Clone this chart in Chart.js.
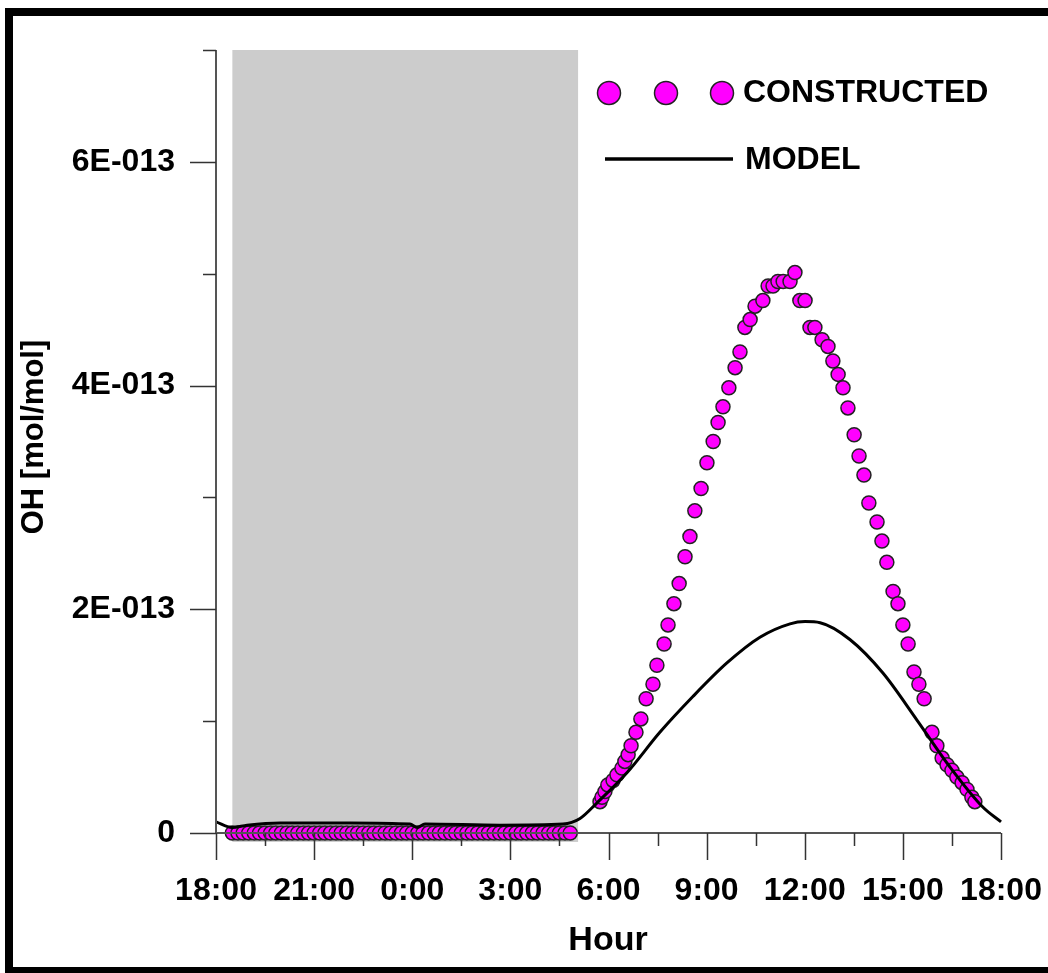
<!DOCTYPE html>
<html>
<head>
<meta charset="utf-8">
<script src="https://cdn.jsdelivr.net/npm/chart.js@4.4.1/dist/chart.umd.min.js"></script>
<style>
  html, body { margin: 0; padding: 0; background: #fff; overflow: hidden; }
  #wrap { position: relative; width: 1048px; height: 973px; overflow: hidden; }
  #frame { position: absolute; left: 5px; top: 8px; width: 1100px; height: 967px; box-sizing: border-box; border: 8px solid #000; border-right: none; pointer-events: none; }
</style>
</head>
<body>
<div id="wrap">
  <canvas id="c" width="1048" height="973"></canvas>
  <div id="frame"></div>
</div>
<script>
// x values: hours elapsed since 18:00 (0 = 18:00, 24 = 18:00 next day)
// y values: OH in units of 1E-013 mol/mol
const hourTickLabels = ["18:00", "21:00", "0:00", "3:00", "6:00", "9:00", "12:00", "15:00", "18:00"];
const ohTickLabels = ["0", "2E-013", "4E-013", "6E-013"];

const nightShade = [0.5, 11.07];

const constructedHours = [
  0.50,0.67,0.83,1.00,1.17,1.33,1.50,1.67,1.83,2.00,2.17,2.33,2.50,2.67,2.83,3.00,
  3.17,3.33,3.50,3.67,3.83,4.00,4.17,4.33,4.50,4.67,4.83,5.00,5.17,5.33,5.50,5.67,
  5.83,6.00,6.17,6.33,6.50,6.67,6.83,7.00,7.17,7.33,7.50,7.67,7.83,8.00,8.17,8.33,
  8.50,8.67,8.83,9.00,9.17,9.33,9.50,9.67,9.83,10.00,10.17,10.33,10.50,10.67,10.83,
  11.74,11.80,11.89,11.98,12.14,12.26,12.41,12.50,12.60,12.69,12.84,12.99,13.15,13.36,
  13.48,13.70,13.82,14.00,14.16,14.34,14.49,14.64,14.83,15.01,15.20,15.35,15.50,15.68,
  15.87,16.02,16.17,16.33,16.48,16.72,16.88,17.03,17.18,17.34,17.55,17.70,
  17.85,18.01,18.16,18.31,18.53,18.71,18.86,19.02,19.17,19.32,19.51,19.66,19.81,19.96,
  20.21,20.36,20.51,20.70,20.85,21.00,21.16,21.34,21.49,21.65,21.89,22.04,22.20,22.35,
  22.50,22.65,22.81,22.96,23.11,23.20
];
const constructedOH = [
  0,0,0,0,0,0,0,0,0,0,0,0,0,0,0,0,
  0,0,0,0,0,0,0,0,0,0,0,0,0,0,0,0,
  0,0,0,0,0,0,0,0,0,0,0,0,0,0,0,0,
  0,0,0,0,0,0,0,0,0,0,0,0,0,0,0,
  0.28,0.32,0.37,0.43,0.47,0.52,0.58,0.64,0.70,0.78,0.90,1.02,1.20,1.33,
  1.50,1.69,1.86,2.05,2.23,2.47,2.65,2.88,3.08,3.31,3.50,3.67,3.81,3.98,
  4.16,4.30,4.52,4.59,4.71,4.76,4.89,4.89,4.93,4.93,4.93,5.01,
  4.76,4.76,4.52,4.52,4.41,4.35,4.22,4.10,3.98,3.80,3.56,3.37,3.20,2.95,
  2.78,2.61,2.42,2.16,2.05,1.86,1.69,1.44,1.33,1.20,0.90,0.78,0.67,0.61,
  0.56,0.50,0.45,0.39,0.32,0.28
];

const modelHours = [0, 0.49, 0.95, 1.96, 4.10, 5.93, 6.15, 6.39, 8.68, 10.61, 11.13, 11.65, 12.57, 13.57, 14.58, 15.62, 16.63, 17.55, 18.01, 18.47, 19.38, 20.39, 21.43, 22.44, 23.45, 24.0];
const modelOH    = [0.10, 0.05, 0.07, 0.09, 0.09, 0.08, 0.05, 0.08, 0.07, 0.08, 0.13, 0.27, 0.54, 0.90, 1.22, 1.52, 1.75, 1.87, 1.89, 1.88, 1.73, 1.43, 1.01, 0.59, 0.23, 0.10];

const FONT = '"Liberation Sans", Arial, sans-serif';
const MAGENTA = '#FF00FF';

const deco = {
  id: 'deco',
  beforeDatasetsDraw(chart) {
    const { ctx, scales: { x, y } } = chart;
    ctx.save();
    ctx.fillStyle = '#cccccc';
    const x0 = x.getPixelForValue(nightShade[0]);
    const x1 = x.getPixelForValue(nightShade[1]);
    const y0 = y.getPixelForValue(7);
    const y1 = y.getPixelForValue(-0.08);
    ctx.fillRect(x0, y0, x1 - x0, y1 - y0);
    ctx.restore();
  },
  afterDraw(chart) {
    const { ctx, scales: { x, y } } = chart;
    const ax = x.getPixelForValue(0);
    const ay = y.getPixelForValue(0);
    ctx.save();
    // axis lines
    ctx.strokeStyle = '#555';
    ctx.lineWidth = 2;
    ctx.beginPath();
    ctx.moveTo(ax, y.getPixelForValue(7));
    ctx.lineTo(ax, ay);
    ctx.moveTo(ax, ay);
    ctx.lineTo(x.getPixelForValue(24), ay);
    ctx.stroke();
    // ticks
    ctx.strokeStyle = '#333';
    ctx.lineWidth = 1.5;
    ctx.beginPath();
    for (let v = 0; v <= 7; v++) {
      const py = Math.round(y.getPixelForValue(v)) + 0.5;
      const len = v % 2 === 0 ? 26 : 13;
      ctx.moveTo(ax - len, py);
      ctx.lineTo(ax, py);
    }
    for (let h = 0; h <= 24; h += 1.5) {
      const px = Math.round(x.getPixelForValue(h)) + 0.5;
      const len = h % 3 === 0 ? 27 : 13;
      ctx.moveTo(px, ay);
      ctx.lineTo(px, ay + len);
    }
    ctx.stroke();

    // legend
    ctx.fillStyle = MAGENTA;
    ctx.strokeStyle = '#222';
    ctx.lineWidth = 1.5;
    [609, 666, 722].forEach(cx => {
      ctx.beginPath();
      ctx.arc(cx, 93, 11.5, 0, Math.PI * 2);
      ctx.fill();
      ctx.stroke();
    });
    ctx.strokeStyle = '#000';
    ctx.lineWidth = 3.5;
    ctx.beginPath();
    ctx.moveTo(605, 159);
    ctx.lineTo(733, 159);
    ctx.stroke();

    ctx.fillStyle = '#000';
    ctx.font = 'bold 32px ' + FONT;
    ctx.textAlign = 'left';
    ctx.textBaseline = 'middle';
    ctx.fillText('CONSTRUCTED', 743, 93);
    ctx.fillText('MODEL', 745, 160);

    // axis titles
    ctx.font = 'bold 34px ' + FONT;
    ctx.textAlign = 'center';
    ctx.fillText('Hour', 608, 941);
    ctx.translate(34, 437);
    ctx.rotate(-Math.PI / 2);
    ctx.font = 'bold 31px ' + FONT;
    ctx.fillText('OH [mol/mol]', 0, 0);
    ctx.restore();
  }
};

const xyOf = (xs, ys) => xs.map((h, i) => ({ x: h, y: ys[i] }));

new Chart(document.getElementById('c'), {
  type: 'scatter',
  data: {
    datasets: [
      {
        label: 'MODEL',
        data: xyOf(modelHours, modelOH),
        showLine: true,
        borderColor: '#000',
        borderWidth: 3,
        pointRadius: 0,
        cubicInterpolationMode: 'monotone',
        clip: false,
        order: 0
      },
      {
        label: 'CONSTRUCTED',
        data: xyOf(constructedHours, constructedOH),
        showLine: false,
        backgroundColor: MAGENTA,
        borderColor: '#222',
        borderWidth: 1.5,
        pointRadius: 7,
        clip: false,
        order: 1
      }
    ]
  },
  options: {
    responsive: false,
    animation: false,
    events: [],
    layout: { padding: { left: 0, top: 50, right: 47, bottom: 0 } },
    plugins: { legend: { display: false }, tooltip: { enabled: false } },
    scales: {
      x: {
        type: 'linear',
        min: 0, max: 24,
        afterFit(scale) { scale.height = 140; scale.paddingLeft = 0; scale.paddingRight = 0; },
        grid: { display: false, drawTicks: false },
        border: { display: false },
        ticks: {
          stepSize: 1.5,
          autoSkip: false,
          maxRotation: 0,
          padding: 39,
          color: '#000',
          font: { family: FONT, size: 32, weight: 'bold' },
          callback: v => (v % 3 === 0 ? hourTickLabels[v / 3] : '')
        }
      },
      y: {
        type: 'linear',
        min: 0, max: 7,
        afterFit(scale) { scale.width = 216; scale.paddingTop = 0; scale.paddingBottom = 0; },
        grid: { display: false, drawTicks: false },
        border: { display: false },
        ticks: {
          stepSize: 1,
          padding: 41,
          color: '#000',
          font: { family: FONT, size: 32, weight: 'bold' },
          callback: v => (v % 2 === 0 ? ohTickLabels[v / 2] : '')
        }
      }
    }
  },
  plugins: [deco]
});
</script>
</body>
</html>
